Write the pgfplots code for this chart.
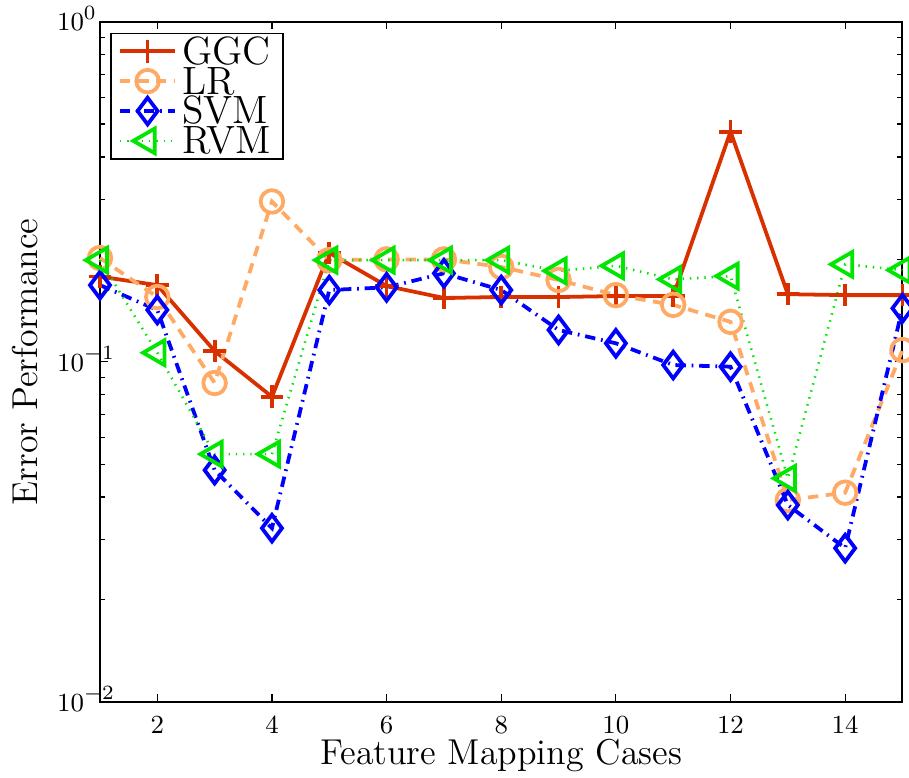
\documentclass[border=0pt]{standalone}
\usepackage{pgfplots}
\pgfplotsset{compat=1.18}
\definecolor{ggc}{RGB}{217,48,0}
\definecolor{lrc}{RGB}{255,170,100}
\definecolor{svmc}{RGB}{0,0,255}
\definecolor{rvmc}{RGB}{0,230,0}
\begin{document}
\begin{tikzpicture}
\useasboundingbox (-34.48pt,-25.97pt) rectangle (278.95pt,241.98pt);
\begin{axis}[
  scale only axis,
  width=276.7pt, height=234.5pt,
  xmin=1, xmax=15,
  ymode=log, ymin=0.01, ymax=1,
  xtick={2,4,...,14},
  ytick={0.01,0.1,1},
  tick align=inside,
  major tick length=2.6pt,
  minor tick length=1.8pt,
  every tick/.style={black, line width=0.4pt},
  axis line style={line width=0.7pt},
  clip=false,
  tick label style={font=\fontsize{9.5}{11}\selectfont},
  xticklabel style={anchor=base, yshift=-10.9pt},
  yticklabel style={anchor=base west, xshift=-18.3pt, yshift=-3.2pt},
  xlabel={Feature Mapping Cases},
  ylabel={Error Performance},
  label style={font=\fontsize{12.4}{14}\selectfont},
  xlabel style={at={(axis description cs:0.5,-0.0917)}, anchor=base},
  ylabel style={at={(axis description cs:-0.0784,0.5)}, anchor=base, rotate=0},
  legend style={at={(axis description cs:0.0125,0.984)}, anchor=north west,
    font=\fontsize{13.6}{15}\selectfont, draw=black, line width=0.6pt,
    inner xsep=2.5pt, inner ysep=1pt, row sep=0pt,
    nodes={inner xsep=1.8pt, inner ysep=0pt, text height=9.6pt, text depth=0.7pt}},
  legend cell align=left,
  legend image code/.code={
    \draw[mark repeat=2, mark phase=2, #1] plot coordinates {(0pt,0pt) (9.5pt,0pt) (19pt,0pt)};
  },
]
\addplot[color=ggc, line width=1.3pt, mark=+, mark size=3.9pt, mark options={solid, line width=1.3pt}]
coordinates {(1,0.178) (2,0.168) (3,0.1075) (4,0.0789) (5,0.209) (6,0.167) (7,0.154) (8,0.155) (9,0.155) (10,0.156) (11,0.156) (12,0.475) (13,0.158) (14,0.157) (15,0.157)};
\addlegendentry{GGC}
\addplot[color=lrc, line width=1.3pt, dash pattern=on 3.6pt off 2.6pt, mark=o, mark size=3.9pt, mark options={solid, line width=1.3pt}]
coordinates {(1,0.2018) (2,0.155) (3,0.0866) (4,0.296) (5,0.199) (6,0.200) (7,0.200) (8,0.190) (9,0.174) (10,0.157) (11,0.147) (12,0.131) (13,0.0392) (14,0.0412) (15,0.1082)};
\addlegendentry{LR}
\addplot[color=svmc, line width=1.3pt, dash pattern=on 3.6pt off 2pt on 0.6pt off 2pt, mark=diamond, mark size=4.6pt, mark options={solid, line width=1.3pt}]
coordinates {(1,0.168) (2,0.142) (3,0.048) (4,0.0324) (5,0.1625) (6,0.1655) (7,0.182) (8,0.1625) (9,0.124) (10,0.1133) (11,0.0978) (12,0.0967) (13,0.0379) (14,0.0283) (15,0.1436)};
\addlegendentry{SVM}
\addplot[color=rvmc, line width=0.9pt, dash pattern=on 0.5pt off 2pt, mark=triangle, mark size=4.9pt, mark options={solid, rotate=90, line width=1.3pt}]
coordinates {(1,0.199) (2,0.1063) (3,0.0535) (4,0.0535) (5,0.199) (6,0.199) (7,0.199) (8,0.199) (9,0.185) (10,0.1915) (11,0.1747) (12,0.1786) (13,0.0454) (14,0.1934) (15,0.186)};
\addlegendentry{RVM}
\end{axis}
\end{tikzpicture}
\end{document}
